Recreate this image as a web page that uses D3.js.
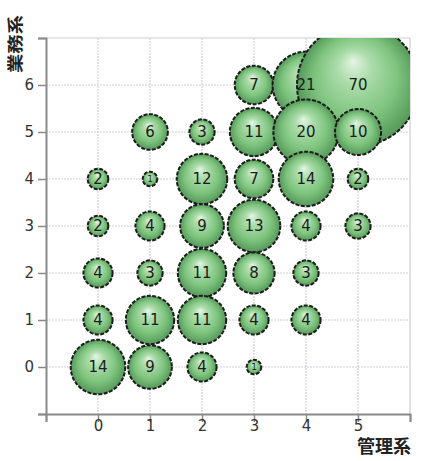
<!DOCTYPE html>
<html>
<head>
<meta charset="utf-8">
<script src="https://cdn.jsdelivr.net/npm/d3@7"></script>
<style>
  html, body { margin: 0; padding: 0; background: #fff; }
  svg { display: block; }
</style>
</head>
<body>
<svg id="chart" width="423" height="461"></svg>
<script>
// 管理系 (x) × 業務系 (y) counts, one bubble per cell
const kanri  = [3, 4, 5,   1, 2, 3, 4, 5,   0, 1, 2, 3, 4, 5,   0, 1, 2, 3, 4, 5,   0, 1, 2, 3, 4,   0, 1, 2, 3, 4,   0, 1, 2, 3];
const gyomu  = [6, 6, 6,   5, 5, 5, 5, 5,   4, 4, 4, 4, 4, 4,   3, 3, 3, 3, 3, 3,   2, 2, 2, 2, 2,   1, 1, 1, 1, 1,   0, 0, 0, 0];
const counts = [7, 21, 70, 6, 3, 11, 20, 10, 2, 1, 12, 7, 14, 2,  2, 4, 9, 13, 4, 3,  4, 3, 11, 8, 3,  4, 11, 11, 4, 4, 14, 9, 4, 1];

const xTickLabels = [0, 1, 2, 3, 4, 5];
const yTickLabels = [0, 1, 2, 3, 4, 5, 6];
const xTitle = "管理系";
const yTitle = "業務系";

const points = counts.map((v, i) => ({ x: kanri[i], y: gyomu[i], v }));

const svg = d3.select("#chart");

const x = d3.scaleLinear().domain([-1, 6]).range([46, 410]);
const y = d3.scaleLinear().domain([-1, 7]).range([414, 38]);
const r = d3.scaleSqrt().domain([0, 70]).range([0, 61]);

const defs = svg.append("defs");
const grad = defs.append("radialGradient")
  .attr("id", "ball")
  .attr("cx", "0.5").attr("cy", "0.5").attr("r", "0.5")
  .attr("fx", "0.46").attr("fy", "0.3");
grad.append("stop").attr("offset", "0%").attr("stop-color", "#e4f5e4");
grad.append("stop").attr("offset", "28%").attr("stop-color", "#abdcab");
grad.append("stop").attr("offset", "68%").attr("stop-color", "#7dc37d");
grad.append("stop").attr("offset", "100%").attr("stop-color", "#55985a");

defs.append("clipPath").attr("id", "plot-clip")
  .append("rect")
  .attr("x", x(-1)).attr("y", y(7))
  .attr("width", x(6) - x(-1)).attr("height", y(-1) - y(7));

// grid
const grid = svg.append("g");
grid.selectAll("line.v").data(d3.range(0, 7)).join("line")
  .attr("x1", d => x(d)).attr("x2", d => x(d))
  .attr("y1", y(7)).attr("y2", y(-1))
  .attr("stroke", d => d === 6 ? "#cfcfcf" : "#d0d0da")
  .attr("stroke-width", 1.2)
  .attr("stroke-dasharray", d => d === 6 ? null : "2 1");
grid.selectAll("line.h").data(d3.range(0, 8)).join("line")
  .attr("x1", x(-1)).attr("x2", x(6))
  .attr("y1", d => y(d)).attr("y2", d => y(d))
  .attr("stroke", d => d === 7 ? "#cfcfcf" : "#d0d0da")
  .attr("stroke-width", 1.2)
  .attr("stroke-dasharray", d => d === 7 ? null : "2 1");

// axes
const xAxis = d3.axisBottom(x)
  .tickValues(d3.range(-1, 7))
  .tickSize(8)
  .tickFormat(d => xTickLabels.includes(d) ? String(d) : "");
const yAxis = d3.axisLeft(y)
  .tickValues(d3.range(-1, 8))
  .tickSize(8)
  .tickFormat(d => yTickLabels.includes(d) ? String(d) : "");

const gx = svg.append("g").attr("transform", `translate(0,${y(-1)})`).call(xAxis);
const gy = svg.append("g").attr("transform", `translate(${x(-1)},0)`).call(yAxis);

[gx, gy].forEach(g => {
  g.select(".domain").attr("stroke", "#8a8a8a").attr("stroke-width", 2);
  g.selectAll(".tick line").attr("stroke", "#8a8a8a").attr("stroke-width", 1.5);
  g.selectAll(".tick text")
    .attr("fill", "#333")
    .style("font-family", "'DejaVu Sans', Verdana, sans-serif")
    .style("font-size", "15px");
});
gx.selectAll(".tick text").attr("y", 6).attr("dy", "0.71em");
gy.selectAll(".tick text").attr("dx", "-1px");

// bubbles: top rows first, lower rows overlapping them
const ordered = points.slice().sort((a, b) => (b.y - a.y) || (a.x - b.x));
const bubbles = svg.append("g").attr("clip-path", "url(#plot-clip)");
bubbles.selectAll("circle").data(ordered).join("circle")
  .attr("cx", d => x(d.x))
  .attr("cy", d => y(d.y))
  .attr("r", d => r(d.v))
  .attr("fill", "url(#ball)")
  .attr("stroke", "#1c1c1c")
  .attr("stroke-width", 2)
  .attr("stroke-dasharray", "4 1.5");

bubbles.selectAll("text").data(ordered).join("text")
  .attr("x", d => x(d.x))
  .attr("y", d => y(d.y))
  .attr("text-anchor", "middle")
  .attr("dominant-baseline", "central")
  .attr("fill", "#1c1c1c")
  .style("font-family", "'DejaVu Sans', Verdana, sans-serif")
  .style("font-size", d => d.v <= 1 ? "9px" : "15px")
  .text(d => d.v);

// titles
svg.append("text")
  .attr("transform", "translate(21,44) rotate(-90)")
  .attr("text-anchor", "middle")
  .attr("textLength", 58)
  .attr("lengthAdjust", "spacingAndGlyphs")
  .attr("fill", "#222")
  .style("font-family", "'Noto Sans CJK JP', sans-serif")
  .style("font-weight", "bold")
  .style("font-size", "16px")
  .text(yTitle);

svg.append("text")
  .attr("x", 357)
  .attr("y", 453)
  .attr("fill", "#222")
  .style("font-family", "'Noto Sans CJK JP', sans-serif")
  .style("font-weight", "bold")
  .style("font-size", "18px")
  .text(xTitle);
</script>
</body>
</html>
